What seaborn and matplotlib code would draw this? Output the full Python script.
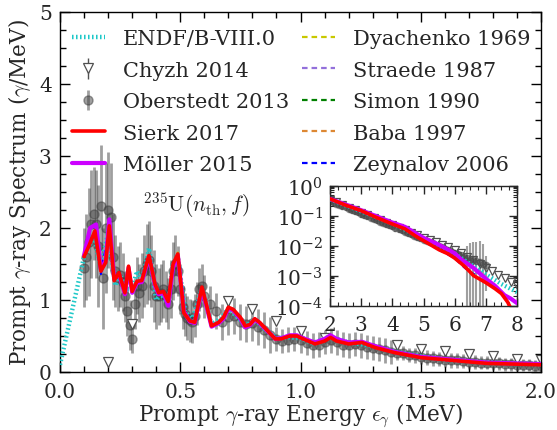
import numpy as np
import pandas as pd
import matplotlib
matplotlib.use('Agg')
import matplotlib.pyplot as plt
import seaborn as sns
from matplotlib.ticker import MultipleLocator, LogLocator, NullFormatter, FormatStrFormatter

# ---------------- data ----------------
# Sierk 2017 (main panel)
sierk_E = [0.10, 0.12, 0.145, 0.17, 0.19, 0.205, 0.225, 0.245, 0.27, 0.285, 0.30, 0.32,
           0.34, 0.37, 0.395, 0.41, 0.43, 0.45, 0.47, 0.49, 0.515, 0.54, 0.56, 0.59,
           0.61, 0.63, 0.66, 0.68, 0.70, 0.72, 0.75, 0.77, 0.79, 0.81, 0.83, 0.85,
           0.875, 0.895, 0.92, 0.955, 0.985, 1.01, 1.06, 1.10, 1.125, 1.15, 1.20,
           1.255, 1.31, 1.39, 1.50, 1.635, 1.775, 2.00]
sierk_y = [1.60, 1.75, 1.96, 1.40, 1.52, 2.03, 1.27, 1.38, 1.10, 1.47, 1.12, 1.26,
           1.27, 1.62, 1.22, 1.10, 1.12, 0.98, 1.50, 1.64, 0.82, 0.71, 0.69, 1.18,
           0.92, 0.64, 0.69, 0.76, 0.90, 0.87, 0.76, 0.64, 0.66, 0.74, 0.69, 0.62,
           0.53, 0.46, 0.46, 0.50, 0.50, 0.46, 0.39, 0.43, 0.48, 0.43, 0.39,
           0.41, 0.34, 0.27, 0.20, 0.16, 0.12, 0.10]
# Moller 2015 (main panel)
moller_E = [0.10, 0.125, 0.15, 0.17, 0.19, 0.205, 0.225, 0.245, 0.27, 0.285, 0.30, 0.32,
            0.34, 0.37, 0.395, 0.41, 0.43, 0.45, 0.47, 0.49, 0.515, 0.54, 0.56, 0.59,
            0.61, 0.63, 0.66, 0.68, 0.70, 0.72, 0.75, 0.77, 0.79, 0.81, 0.83, 0.85,
            0.875, 0.895, 0.92, 0.955, 0.985, 1.01, 1.06, 1.10, 1.125, 1.15, 1.20,
            1.255, 1.31, 1.39, 1.50, 1.635, 1.775, 2.00]
moller_y = [1.62, 2.00, 2.05, 1.42, 1.55, 2.12, 1.30, 1.36, 1.08, 1.45, 1.10, 1.24,
            1.25, 1.60, 1.20, 1.08, 1.10, 0.92, 1.45, 1.62, 0.84, 0.70, 0.68, 1.15,
            0.90, 0.63, 0.68, 0.74, 0.88, 0.86, 0.74, 0.62, 0.65, 0.73, 0.68, 0.61,
            0.53, 0.46, 0.47, 0.51, 0.51, 0.47, 0.41, 0.46, 0.51, 0.46, 0.41,
            0.42, 0.36, 0.28, 0.21, 0.17, 0.13, 0.11]
# ENDF/B-VIII.0 (main panel)
endf_E = [0.0, 0.10, 0.12, 0.14, 0.17, 0.20, 0.23, 0.25, 0.27, 0.30, 0.32, 0.34, 0.37,
          0.40, 0.42, 0.45, 0.47, 0.49, 0.52, 0.55, 0.59, 0.63, 0.67, 0.70, 0.75,
          0.78, 0.81, 0.85, 0.90, 0.95, 1.0, 1.05, 1.12, 1.2, 1.3, 1.4, 1.5, 1.6,
          1.8, 2.0]
endf_y = [0.10, 1.60, 1.75, 1.90, 1.45, 1.95, 1.20, 1.35, 1.15, 1.15, 1.40, 1.25, 1.72,
          1.00, 1.08, 0.95, 1.50, 1.60, 0.85, 0.72, 1.15, 0.66, 0.75, 0.88, 0.72,
          0.65, 0.73, 0.60, 0.47, 0.48, 0.47, 0.40, 0.49, 0.41, 0.36, 0.28, 0.22, 0.17,
          0.13, 0.11]
# other evaluations (mostly hidden under the calculations)
dyach_E, dyach_y = [0.47, 0.49, 0.51], [1.50, 1.66, 0.95]
straede_E, straede_y = [], []
simon_E, simon_y = [], []
baba_E, baba_y = [], []
zeyn_E = [0.10, 0.145, 0.17, 0.205, 0.225]
zeyn_y = [1.60, 1.93, 1.36, 2.00, 1.27]

# Chyzh 2014 (main panel)
chyzh_E = [0.2, 0.3, 0.7, 0.8, 0.9, 1.0, 1.1, 1.4, 1.5, 1.6, 1.7, 1.8, 1.9, 2.0]
chyzh_y = [0.14, 0.67, 0.98, 0.87, 0.71, 0.57, 0.47, 0.37, 0.32, 0.29, 0.25, 0.22, 0.18, 0.17]
chyzh_err = [0.03, 0.03, 0.03, 0.03, 0.03, 0.03, 0.03, 0.02, 0.02, 0.02, 0.02, 0.02, 0.02, 0.02]

# Oberstedt 2013 (main panel)
obe_E = [0.10, 0.11, 0.12, 0.13, 0.14, 0.15, 0.16, 0.17, 0.18, 0.19, 0.20, 0.21, 0.22,
         0.23, 0.24, 0.25, 0.26, 0.27, 0.28, 0.29, 0.30, 0.31, 0.32, 0.33, 0.34, 0.35,
         0.36, 0.37, 0.38, 0.39, 0.40, 0.41, 0.42, 0.43, 0.44, 0.45, 0.46, 0.47, 0.48,
         0.49, 0.50, 0.51, 0.52, 0.53, 0.54, 0.55, 0.56, 0.57, 0.58, 0.59, 0.60,
         0.625, 0.65, 0.675, 0.70, 0.725, 0.75, 0.775, 0.80, 0.825, 0.85, 0.875, 0.90,
         0.925, 0.95, 0.975, 1.00, 1.025, 1.05, 1.075, 1.10, 1.125, 1.15, 1.175, 1.20,
         1.225, 1.25, 1.275, 1.30, 1.325, 1.35, 1.375, 1.40, 1.425, 1.45, 1.475, 1.50,
         1.525, 1.55, 1.575, 1.60, 1.625, 1.65, 1.675, 1.70, 1.725, 1.75, 1.775, 1.80,
         1.825, 1.85, 1.875, 1.90, 1.925, 1.95, 1.975, 2.00]
obe_y = [1.45, 1.60, 1.80, 2.05, 2.20, 2.05, 1.75, 2.30, 1.30, 2.00, 2.25, 2.15, 1.60,
         1.40, 1.30, 1.35, 1.25, 1.05, 0.85, 0.65, 0.46, 0.95, 1.20, 1.10, 1.20, 1.40,
         1.50, 1.55, 1.40, 1.20, 1.05, 1.05, 1.10, 1.15, 1.05, 0.95, 1.15, 1.40, 1.50,
         1.40, 1.15, 0.90, 0.80, 0.75, 0.72, 0.70, 0.78, 0.95, 1.15, 1.20, 1.05,
         0.95, 0.85, 0.70, 0.76, 0.78, 0.70, 0.66, 0.68, 0.63, 0.58, 0.52, 0.46,
         0.43, 0.45, 0.46, 0.44, 0.40, 0.37, 0.38, 0.42, 0.44, 0.41, 0.38, 0.37,
         0.39, 0.37, 0.35, 0.33, 0.32, 0.30, 0.28, 0.27, 0.26, 0.24, 0.23, 0.21,
         0.20, 0.19, 0.18, 0.17, 0.16, 0.16, 0.15, 0.14, 0.14, 0.13, 0.13, 0.12,
         0.12, 0.11, 0.11, 0.10, 0.10, 0.10, 0.09, 0.09]
obe_err = [0.55, 0.60, 0.75, 0.75, 0.65, 0.75, 0.85, 0.85, 0.70, 0.90, 0.80, 0.75, 0.60,
           0.50, 0.45, 0.45, 0.40, 0.35, 0.35, 0.35, 0.20, 0.35, 0.40, 0.40, 0.45, 0.50,
           0.55, 0.55, 0.50, 0.50, 0.45, 0.40, 0.40, 0.40, 0.35, 0.35, 0.40, 0.40, 0.40,
           0.35, 0.35, 0.30, 0.30, 0.30, 0.30, 0.30, 0.30, 0.30, 0.30, 0.30, 0.30,
           0.25, 0.25, 0.25, 0.25, 0.25, 0.25, 0.25, 0.25, 0.25, 0.25, 0.25, 0.17,
           0.17, 0.17, 0.17, 0.17, 0.17, 0.17, 0.17, 0.17, 0.17, 0.17, 0.17, 0.17,
           0.17, 0.17, 0.17, 0.17, 0.17, 0.17, 0.17, 0.10, 0.10, 0.10, 0.10, 0.10,
           0.10, 0.10, 0.10, 0.10, 0.10, 0.10, 0.10, 0.10, 0.10, 0.09, 0.09, 0.09,
           0.09, 0.09, 0.09, 0.08, 0.08, 0.08, 0.08, 0.08]

# ---------------- inset data (2-8 MeV, log scale) ----------------
ins_sierk_E = [2.0, 2.5, 3.0, 3.5, 4.0, 4.4, 4.8, 5.0, 5.5, 5.8, 6.0, 6.3, 6.5, 6.6,
               7.0, 7.3, 7.5, 7.7, 7.8, 8.0]
ins_sierk_y = [0.36, 0.22, 0.145, 0.085, 0.052, 0.036, 0.019, 0.0145, 0.0072, 0.0052,
               0.0038, 0.0021, 0.0013, 0.0010, 5.8e-4, 3.6e-4, 2.5e-4, 1.3e-4, 8e-5, 5e-5]
ins_moller_E = [2.0, 3.0, 4.0, 4.4, 5.0, 5.5, 6.0, 6.2, 6.6, 7.0, 7.3, 7.6, 7.8, 8.0]
ins_moller_y = [0.36, 0.15, 0.058, 0.042, 0.018, 0.0105, 0.0055, 0.0035, 0.0018,
                7.8e-4, 4.5e-4, 2.2e-4, 1.7e-4, 1.2e-4]
ins_endf_E = [2.0, 4.0, 6.0, 6.5, 7.0, 7.5, 8.0]
ins_endf_y = [0.35, 0.055, 0.0052, 0.0024, 0.0011, 5.2e-4, 2.8e-4]
ins_zeyn_E = [5.5, 6.0, 6.3, 6.5, 6.7]
ins_zeyn_y = [0.0072, 0.0038, 0.0019, 0.0013, 0.0010]

ins_obe_E = [2.0, 2.1, 2.2, 2.3, 2.4, 2.5, 2.6, 2.7, 2.8, 2.9, 3.0, 3.1, 3.2, 3.3, 3.4,
             3.5, 3.6, 3.7, 3.8, 3.9, 4.0, 4.1, 4.2, 4.3, 4.4, 4.5, 4.6, 4.7, 4.8, 4.9,
             5.0, 5.1, 5.2, 5.3, 5.4, 5.5, 5.6, 5.7, 5.8, 5.9, 6.0, 6.1, 6.2, 6.3, 6.4,
             6.5, 6.6, 6.7, 6.8, 6.9, 7.0]
ins_obe_y = [0.30, 0.275, 0.25, 0.23, 0.205, 0.186, 0.166, 0.151, 0.138, 0.126, 0.112,
             0.102, 0.093, 0.085, 0.078, 0.071, 0.063, 0.058, 0.052, 0.047, 0.043,
             0.039, 0.035, 0.032, 0.029, 0.026, 0.0235, 0.0214, 0.0195, 0.0174, 0.0158,
             0.0145, 0.0132, 0.0117, 0.0107, 0.0095, 0.0087, 0.0079, 0.0071, 0.0063,
             0.0056, 0.0051, 0.0047, 0.0042, 0.0038, 0.0034, 0.0032, 0.0030, 0.0028,
             0.0025, 0.0023]
ins_obe_err = [0.07, 0.065, 0.06, 0.055, 0.05, 0.045, 0.04, 0.037, 0.034, 0.031, 0.028,
               0.025, 0.023, 0.021, 0.019, 0.017, 0.016, 0.014, 0.013, 0.012, 0.011,
               0.010, 0.009, 0.008, 0.0072, 0.0065, 0.0059, 0.0054, 0.0049, 0.0044,
               0.0040, 0.0036, 0.0033, 0.0030, 0.0027, 0.0024, 0.0022, 0.0020, 0.0018,
               0.0017, 0.0016, 0.0015, 0.0015, 0.0016, 0.0060, 0.0085, 0.0095, 0.0100,
               0.0110, 0.0090, 0.0020]
ins_chyzh_E = [2.0, 2.2, 2.4, 2.6, 2.8, 3.0, 3.2, 3.4, 3.6, 3.8, 4.0, 4.2, 4.4, 4.6, 4.8,
               5.0, 5.2, 5.4, 5.6, 5.8, 6.0, 6.2, 6.4, 6.6, 6.8, 7.0, 7.2, 7.4, 7.6, 7.8,
               8.0]
ins_chyzh_y = [0.33, 0.275, 0.224, 0.182, 0.151, 0.123, 0.102, 0.083, 0.069, 0.056, 0.047,
               0.039, 0.032, 0.026, 0.022, 0.018, 0.0151, 0.0126, 0.0105, 0.0087, 0.0072,
               0.0055, 0.0042, 0.0032, 0.0024, 0.0018, 0.00138, 0.00107, 0.00083,
               0.00063, 0.00048]

# ---------------- styling ----------------
sns.set_theme(style='ticks')
plt.rcParams['font.family'] = ['DejaVu Serif']
plt.rcParams['mathtext.fontset'] = 'cm'
plt.rcParams['axes.linewidth'] = 1.0

C_ENDF = '#1ec8c8'
C_SIERK = '#ff0000'
C_MOLLER = '#cc00ff'
C_ZEYN = '#0000ff'
C_GRAY = '#404040'
endf_ls = (0, (0.35, 0.55))
dash_ls = (0, (2.5, 1.8))

fig = plt.figure(figsize=(5.57, 4.31), dpi=100)
ax = fig.add_axes([60 / 557, 58 / 431, 481 / 557, 360 / 431])


def draw_lines(a, E_endf, y_endf, E_z, y_z, E_m, y_m, E_s, y_s, lw=2.6):
    sns.lineplot(x=E_endf, y=y_endf, ax=a, color=C_ENDF, lw=3.2, sort=False,
                 estimator=None, zorder=3)
    a.lines[-1].set_linestyle(endf_ls)
    if len(E_z):
        sns.lineplot(x=E_z, y=y_z, ax=a, color=C_ZEYN, lw=1.6, sort=False,
                     estimator=None, zorder=4)
        a.lines[-1].set_linestyle(dash_ls)
    sns.lineplot(x=E_m, y=y_m, ax=a, color=C_MOLLER, lw=lw + 0.4, sort=False,
                 estimator=None, zorder=5)
    sns.lineplot(x=E_s, y=y_s, ax=a, color=C_SIERK, lw=lw, sort=False,
                 estimator=None, zorder=6)


# Oberstedt
obe_cont = ax.errorbar(obe_E, obe_y, yerr=obe_err, fmt='o', ms=6.5, color=C_GRAY,
                       alpha=0.5, elinewidth=2.0, capsize=0, zorder=1)
# Chyzh
chyzh_cont = ax.errorbar(chyzh_E, chyzh_y, yerr=chyzh_err, fmt='v', ms=7.5,
                         mfc='white', mec='#505050', mew=0.9, color='#505050',
                         elinewidth=1.0, capsize=0, zorder=2)
draw_lines(ax, endf_E, endf_y, zeyn_E, zeyn_y, moller_E, moller_y, sierk_E, sierk_y)

endf_handle = [l for l in ax.lines if l.get_color() == C_ENDF][0]
sierk_handle = [l for l in ax.lines if l.get_color() == C_SIERK][0]
moller_handle = [l for l in ax.lines if l.get_color() == C_MOLLER][0]
zeyn_handle = [l for l in ax.lines if l.get_color() == C_ZEYN][0]

dash_handles = []
for E, y, col in [(dyach_E, dyach_y, '#c8c800'), (straede_E, straede_y, '#9370db'),
                  (simon_E, simon_y, '#008000'), (baba_E, baba_y, '#dd8833')]:
    h, = ax.plot(E, y, color=col, lw=1.6, ls=dash_ls, zorder=4)
    dash_handles.append(h)
dash_handles.append(zeyn_handle)

ax.set_xlim(0, 2.0)
ax.set_ylim(0, 5)
ax.xaxis.set_major_locator(MultipleLocator(0.5))
ax.xaxis.set_minor_locator(MultipleLocator(0.1))
ax.yaxis.set_major_locator(MultipleLocator(1))
ax.yaxis.set_minor_locator(MultipleLocator(0.25))
ax.xaxis.set_major_formatter(FormatStrFormatter('%.1f'))
ax.tick_params(which='both', direction='in', top=True, right=True, labelsize=14.5,
               color='black')
ax.tick_params(axis='x', pad=7)
ax.tick_params(axis='y', pad=6)
ax.tick_params(which='major', length=7, width=1)
ax.tick_params(which='minor', length=4, width=1)
ax.set_xlabel(r'Prompt $\gamma$-ray Energy $\epsilon_\gamma$ (MeV)', fontsize=15.5,
              labelpad=0)
ax.set_ylabel(r'Prompt $\gamma$-ray Spectrum ($\gamma$/MeV)', fontsize=15.5, labelpad=4)
for s in ax.spines.values():
    s.set_color('black')

ax.text(0.345, 2.33, r'$^{235}\mathrm{U}(n_{\mathrm{th}},f)$', fontsize=15.5,
        va='center', ha='left')

leg_kw = dict(loc='upper left', frameon=False, fontsize=15, handlelength=1.6,
              handletextpad=0.85, labelspacing=0.6, borderpad=0, borderaxespad=0)
leg1 = ax.legend([endf_handle, chyzh_cont, obe_cont, sierk_handle, moller_handle],
                 ['ENDF/B-VIII.0', 'Chyzh 2014', 'Oberstedt 2013', 'Sierk 2017',
                  'Möller 2015'], bbox_to_anchor=(0.024, 0.952), **leg_kw)
ax.add_artist(leg1)
ax.legend(dash_handles, ['Dyachenko 1969', 'Straede 1987', 'Simon 1990', 'Baba 1997',
                         'Zeynalov 2006'], bbox_to_anchor=(0.503, 0.952), **leg_kw)

# ---------------- inset ----------------
axi = fig.add_axes([330 / 557, (431 - 306.5) / 431, 187 / 557, 120 / 431])
axi.set_yscale('log')
axi.errorbar(ins_obe_E, ins_obe_y, yerr=ins_obe_err, fmt='o', ms=4.5, color=C_GRAY,
             alpha=0.5, elinewidth=1.5, capsize=0, zorder=1)
axi.errorbar(ins_chyzh_E, ins_chyzh_y, fmt='v', ms=5.5, mfc='none', mec='#505050',
             mew=0.9, color='#505050', zorder=2)
draw_lines(axi, ins_endf_E, ins_endf_y, ins_zeyn_E, ins_zeyn_y, ins_moller_E,
           ins_moller_y, ins_sierk_E, ins_sierk_y, lw=2.6)
axi.set_xlim(2, 8)
axi.set_ylim(1e-4, 1)
axi.xaxis.set_major_locator(MultipleLocator(1))
axi.xaxis.set_minor_locator(MultipleLocator(0.25))
axi.yaxis.set_major_locator(LogLocator(base=10, numticks=10))
axi.yaxis.set_minor_locator(LogLocator(base=10, subs=np.arange(2, 10), numticks=20))
axi.yaxis.set_minor_formatter(NullFormatter())
axi.tick_params(which='both', direction='in', top=True, right=True, labelsize=14.5)
axi.tick_params(axis='x', pad=7)
axi.tick_params(axis='y', pad=5)
axi.tick_params(which='major', length=6, width=1)
axi.tick_params(which='minor', length=3, width=0.8)
axi.set_xlabel('')
axi.set_ylabel('')
axi.set_facecolor('white')

fig.savefig('out.png', dpi=100)
